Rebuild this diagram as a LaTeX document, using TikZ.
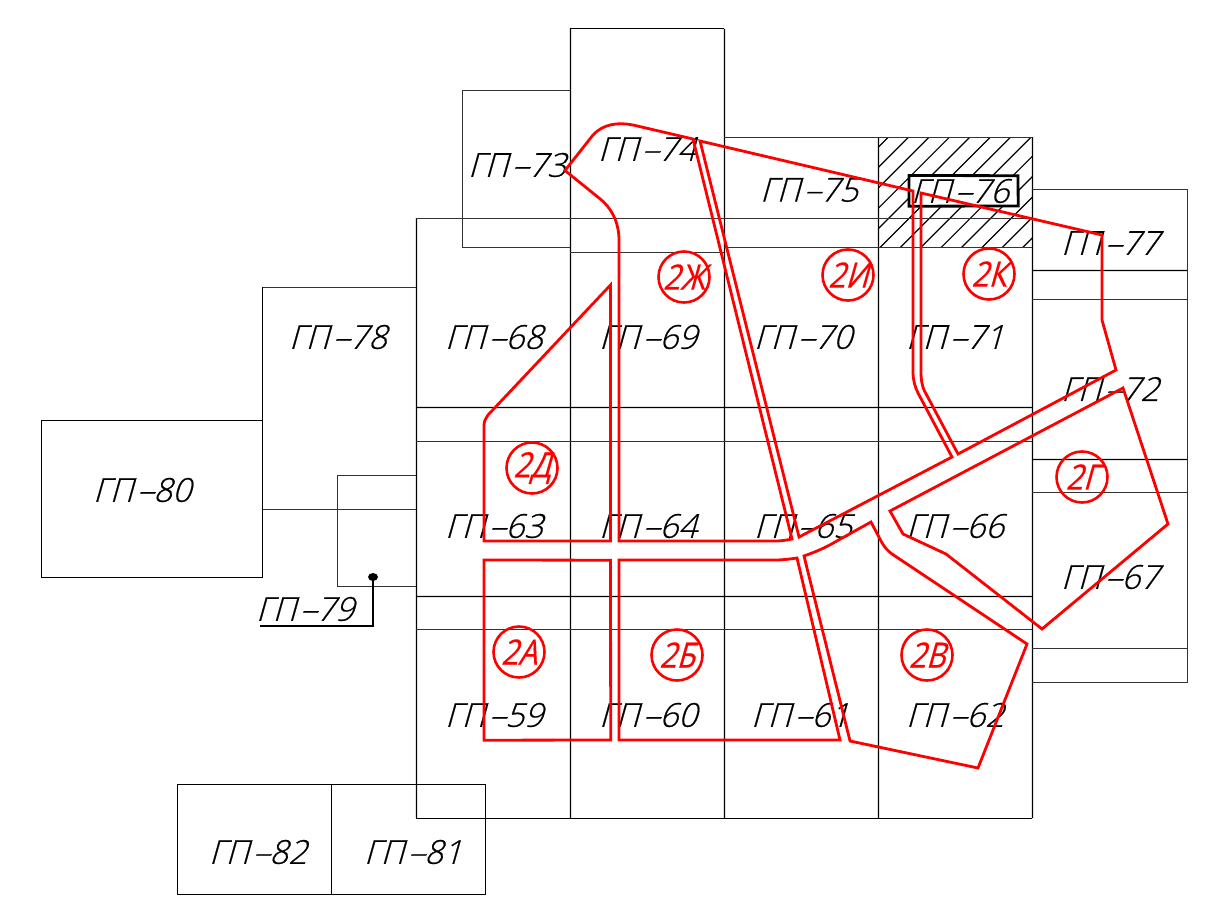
\documentclass[tikz,border=0pt]{standalone}
\usepackage{fontspec}
\newfontfamily\cadthin[FakeSlant=0.28,FakeBold=0.6]{Open Sans Light}
\newfontfamily\cadred[FakeSlant=0.28,FakeStretch=0.85,FakeBold=0.4]{Open Sans}
\newcommand{\hy}{\scalebox{1.9}[1]{-}}
\newcommand{\lab}[1]{ГП\hy#1}
\definecolor{cadred}{RGB}{255,0,0}
\tikzset{
  thinline/.style={draw=black!80,line width=1pt},
  darkline/.style={draw=black,line width=1pt},
  gridline/.style={draw=black,line width=1.35pt},
  hatchline/.style={draw=black,line width=1.2pt},
  zone/.style={draw=cadred,line width=2.8pt,line join=miter,miter limit=6},
  plotlabel/.style={font=\cadthin\fontsize{33}{33}\selectfont,inner sep=0pt,text=black,xshift=-3pt},
  zonemark/.style={circle,draw=cadred,line width=2.6pt,minimum size=51pt,inner sep=0pt,text=cadred,font=\cadred\fontsize{35}{35}\selectfont},
}
\begin{document}
\begin{tikzpicture}[x=1pt,y=-1pt]
\useasboundingbox (0,0) rectangle (1209,899);
% hatching of plot 76
\begin{scope}
  \clip (878,137) rectangle (1032,247);
  \foreach \k in {0,...,14}{
    \pgfmathsetmacro{\s}{1005+20.4*\k}
    \draw[hatchline] (\s,0) -- (\s-300,300);
  }
\end{scope}
\fill[white] (909,175.5) -- (1018,175.5) -- (1018,206) -- (909,206) -- cycle;
\draw[draw=black,line width=2.8pt] (909,175.5) -- (1018,175.7) -- (1018.2,206) -- (909,206.2) -- cycle;
% main grid
\draw[darkline] (570,29) -- (724,29);
\draw[gridline] (570.5,29) -- (570.53,818);
\draw[gridline] (724.5,29) -- (724.53,818);
\draw[gridline] (878.5,137) -- (878.53,818);
\draw[gridline] (1032.5,137) -- (1032.53,818);
\draw[gridline] (416.5,218) -- (416.53,818);
\draw[darkline] (416,818) -- (1032,818);
\draw[thinline] (724,137) -- (1032,137);
\draw[thinline] (416,218) -- (570,218);
\draw[thinline] (570,218) -- (1032,218);
\draw[thinline] (570,252) -- (724,252);
\draw[thinline] (724,247) -- (1032,247);
\draw[thinline] (462,247) -- (462,90) -- (570,90);
\draw[thinline] (462,247) -- (570,247);
\draw[gridline] (416,407.5) -- (1032,407.53);
\draw[thinline] (416,441) -- (1032,441);
\draw[gridline] (416,596.5) -- (1032,596.53);
\draw[thinline] (416,629) -- (1032,629);
% east strip
\draw[thinline] (1032,189) -- (1187,189) -- (1187,682) -- (1032,682);
\draw[gridline] (1032,270.5) -- (1187,270.53);
\draw[thinline] (1032,299) -- (1187,299);
\draw[gridline] (1032,459.5) -- (1187,459.53);
\draw[thinline] (1032,492) -- (1187,492);
\draw[thinline] (1032,648) -- (1187,648);
% west plots
\draw[thinline] (262,287) -- (416,287);
\draw[thinline] (262,509) -- (416,509);
\draw[darkline] (262,287) -- (262,577) -- (41,577) -- (41,420) -- (262,420);
\draw[thinline] (337,509) -- (337,475) -- (416,475);
\draw[thinline] (337,509) -- (337,586) -- (416,586);
% south-west plots
\draw[darkline] (331,784) -- (177,784) -- (177,894) -- (331,894) -- cycle;
\draw[darkline] (331,784) -- (485,784) -- (485,894) -- (331,894);
% leader of 79
\coordinate (leadA) at (373,577);
\coordinate (leadB) at (373,626);
\coordinate (leadC) at (260,626);
\fill[black] (leadA) ellipse (5pt and 4pt);
\draw[black,line width=1.6pt] (leadA) -- (leadB) -- (leadC);
% labels
\node[plotlabel] (n73) at (520,165) {\lab{73}};
\node[plotlabel] (n74) at (650,149) {\lab{74}};
\node[plotlabel] (n75) at (812,190) {\lab{75}};
\node[plotlabel] (n76) at (963,191) {\lab{76}};
\node[plotlabel] (n77) at (1113,243) {\lab{77}};
\node[plotlabel] (n78) at (341,337) {\lab{78}};
\node[plotlabel] (n68) at (497,337) {\lab{68}};
\node[plotlabel] (n69) at (651,337) {\lab{69}};
\node[plotlabel] (n70) at (806,337) {\lab{70}};
\node[plotlabel] (n71) at (958,337) {\lab{71}};
\node[plotlabel] (n72) at (1113,389) {\lab{72}};
\node[plotlabel] (n63) at (497,526) {\lab{63}};
\node[plotlabel] (n64) at (651,526) {\lab{64}};
\node[plotlabel] (n65) at (806,526) {\lab{65}};
\node[plotlabel] (n66) at (958,526) {\lab{66}};
\node[plotlabel] (n67) at (1113,577) {\lab{67}};
\node[plotlabel] (n59) at (497,715) {\lab{59}};
\node[plotlabel] (n60) at (651,715) {\lab{60}};
\node[plotlabel] (n61) at (803,715) {\lab{61}};
\node[plotlabel] (n62) at (958,715) {\lab{62}};
\node[plotlabel] (n80) at (145,490) {\lab{80}};
\node[plotlabel] (n79) at (308,609) {\lab{79}};
\node[plotlabel] (n82) at (261,852) {\lab{82}};
\node[plotlabel] (n81) at (416,852) {\lab{81}};
% red zones
\draw[zone] (565,170.5) -- (593,135) .. controls (603,124) and (618,122) .. (633,125) -- (693,139) -- (792,539) .. controls (785,540.5) and (780,541) .. (775,541) -- (619,541) -- (619,240) .. controls (619,222) and (611,207) .. (599,198) -- cycle;
\draw[zone] (700,141) -- (913,191) -- (913,372) .. controls (913,380) and (915,387) .. (918,393) -- (952,457) -- (799,537) -- cycle;
\draw[zone] (921,193) -- (1102,235) -- (1102,320) -- (1116,370) -- (958,454) -- (924,390) .. controls (922,385) and (921,380) .. (921,372) -- cycle;
\draw[zone] (610.5,285) -- (610.5,541) -- (484,541) -- (484,425) .. controls (484,421) and (486,418) .. (488,415) -- cycle;
\draw[zone] (484,560) -- (610.5,560.2) -- (610.7,740) -- (484,740.2) -- cycle;
\draw[zone] (619,560) -- (775,560) .. controls (783,560) and (790,559) .. (797,558) -- (840,740) -- (619,740) -- cycle;
\draw[zone] (804,556) .. controls (815,552) and (825,548) .. (835,542) -- (871,522) -- (881,541) .. controls (884,547) and (888,551) .. (892,554) -- (1027,644) -- (978,768) -- (850,741) -- cycle;
\draw[zone] (890,511) -- (1123,388) -- (1168,524) -- (1042,629) -- (946,554) -- (903,534) -- cycle;
% zone marks
\node[zonemark] (zj) at (684,277) {2Ж};
\node[zonemark] (zi) at (848,275) {2И};
\node[zonemark] (zk) at (989,274) {2К};
\node[zonemark] (zd) at (532,468) {2Д};
\node[zonemark] (za) at (519,652) {2А};
\node[zonemark] (zb) at (677,655) {2Б};
\node[zonemark] (zv) at (927,655) {2В};
\node[zonemark] (zg) at (1082,477) {2Г};
\end{tikzpicture}
\end{document}
